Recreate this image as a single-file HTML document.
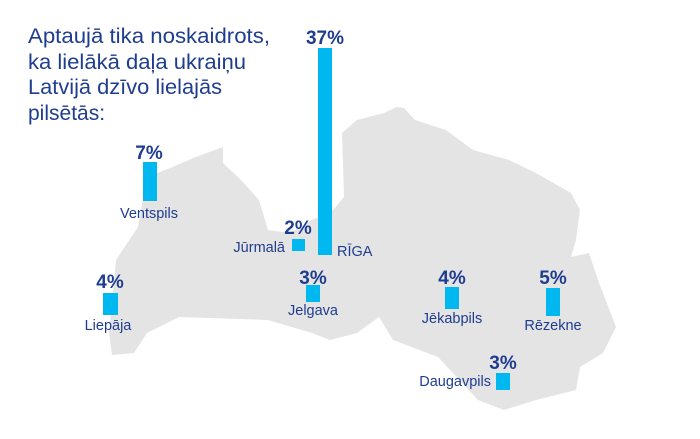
<!DOCTYPE html>
<html><head><meta charset="utf-8"><style>
html,body{margin:0;padding:0;background:#fff;}
svg{display:block;}
text{font-family:"Liberation Sans",sans-serif;fill:#1f3d8f;}
.p{font-weight:bold;font-size:19px;text-anchor:middle;}
.l{font-size:14.5px;text-anchor:middle;}
</style></head><body>
<svg width="700" height="439" viewBox="0 0 700 439" xmlns="http://www.w3.org/2000/svg">
<polygon fill="#e4e4e4" points="112,355 109,333 116,260 138,227 147,177 170,168 196,157 223,147 223,163 241,180 259,200 268,230 290,233 312,220 333,210 344,197 342,133 357,120 384,113 397,107 404,108 415,120 446,130 473,150 509,160 536,173 571,193 580,210 576,240 571,257 589,253 598,280 616,327 603,353 580,367 576,390 536,400 504,410 478,400 438,357 393,340 379,317 357,333 330,340 312,333 268,320 179,317 147,333 134,353"/>
<g font-size="21">
<text x="28" y="43" textLength="242" lengthAdjust="spacingAndGlyphs">Aptaujā tika noskaidrots,</text>
<text x="28" y="69" textLength="218" lengthAdjust="spacingAndGlyphs">ka lielākā daļa ukraiņu</text>
<text x="28" y="94" textLength="194" lengthAdjust="spacingAndGlyphs">Latvijā dzīvo lielajās</text>
<text x="28" y="120">pilsētās:</text>
</g>
<g fill="#00b8f0">
<rect x="318" y="48" width="14" height="207"/>
<rect x="292" y="239" width="13" height="12"/>
<rect x="143" y="162" width="14" height="39"/>
<rect x="103" y="293" width="15" height="22"/>
<rect x="306" y="285" width="14" height="17"/>
<rect x="445" y="287" width="14" height="22"/>
<rect x="546" y="288" width="14" height="28"/>
<rect x="496" y="373" width="14" height="17"/>
</g>
<text class="p" x="325" y="44">37%</text>
<text class="l" x="337" y="256" style="text-anchor:start">RĪGA</text>
<text class="p" x="298" y="234">2%</text>
<text class="l" x="285" y="252" style="text-anchor:end">Jūrmalā</text>
<text class="p" x="149" y="159">7%</text>
<text class="l" x="149" y="218">Ventspils</text>
<text class="p" x="110" y="288">4%</text>
<text class="l" x="108" y="330">Liepāja</text>
<text class="p" x="313" y="284">3%</text>
<text class="l" x="313" y="315">Jelgava</text>
<text class="p" x="452" y="284">4%</text>
<text class="l" x="452" y="323">Jēkabpils</text>
<text class="p" x="553" y="284">5%</text>
<text class="l" x="553" y="330">Rēzekne</text>
<text class="p" x="503" y="369">3%</text>
<text class="l" x="491" y="386" style="text-anchor:end">Daugavpils</text>
</svg>
</body></html>
